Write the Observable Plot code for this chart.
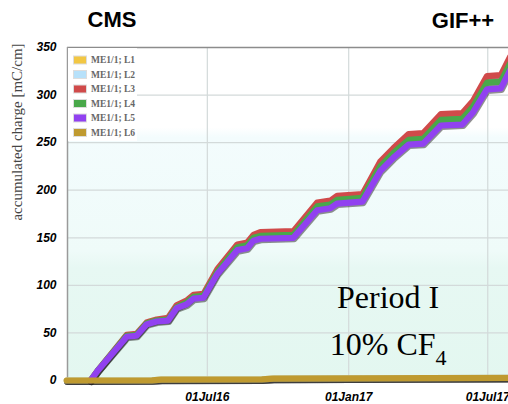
<!DOCTYPE html>
<html>
<head>
<meta charset="utf-8">
<script src="https://cdn.jsdelivr.net/npm/d3@7"></script>
<script src="https://cdn.jsdelivr.net/npm/@observablehq/plot@0.6"></script>
<style>
  html, body { margin: 0; padding: 0; background: #fff; }
  #chart { position: relative; width: 508px; height: 404px; overflow: hidden; }
</style>
</head>
<body>
<div id="chart"></div>
<script>
// Accumulated charge per layer of the ME1/1 chamber at GIF++ (mC/cm)
const seriesNames = ["ME1/1; L1", "ME1/1; L2", "ME1/1; L3", "ME1/1; L4", "ME1/1; L5", "ME1/1; L6"];
const seriesColors = ["#f2c744", "#b7e1fa", "#d04a4a", "#49a84a", "#9141f0", "#bf9a30"];

// Sampling dates shared by layers L3, L4, L5
const dates = ["2016-01-31","2016-02-09","2016-03-14","2016-03-18","2016-03-31","2016-04-13","2016-04-17",
  "2016-04-26","2016-05-11","2016-05-22","2016-06-04","2016-06-13","2016-06-26","2016-07-14","2016-08-09",
  "2016-08-22","2016-08-30","2016-09-08","2016-10-21","2016-11-21","2016-12-08","2016-12-17","2017-01-19",
  "2017-02-11","2017-02-28","2017-03-20","2017-04-08","2017-05-01","2017-05-29","2017-06-12","2017-06-30",
  "2017-07-18","2017-07-30"];
const chargeL3 = [0,10,44,48,49,61,62,64,66,79,84,90,91,117,143,145,153,156,157,187,189,194,196,230,244,259,260,280,281,294,320,321,340];
const chargeL4 = [0,10,43,47,48,60,61,63,64,77,82,88,89,114,140,142,150,152,153,183,185,190,192,225,239,253,254,274,275,288,313,314,333];
const chargeL5 = [0,10,42,46,47,59,60,62,63,76,80,86,87,112,137,139,147,149,150,179,181,186,188,220,234,248,249,268,269,282,306,307,326];

// Layers that stay close to zero
const lowDates = ["2015-12-31","2016-04-20","2016-05-02","2016-09-10","2016-09-25","2017-07-30"];
const chargeL1 = [0, 0.2, 0.9, 1.1, 1.9, 2.6];
const chargeL2 = [0, 0.2, 0.9, 1.1, 1.9, 2.7];
const chargeL6 = [0, 0.2, 1, 1.2, 2, 2.8];

const yTicks = [0, 50, 100, 150, 200, 250, 300, 350];
const xTicks = ["2016-07-01", "2017-01-01", "2017-07-01"];
const xDomain = ["2016-01-01", "2017-07-28"];

const toRows = (name, ds, vs) => ds.map((d, i) => ({series: name, date: new Date(d), value: vs[i]}));
const rowsBySeries = [
  toRows(seriesNames[0], lowDates, chargeL1),
  toRows(seriesNames[1], lowDates, chargeL2),
  toRows(seriesNames[2], dates, chargeL3),
  toRows(seriesNames[3], dates, chargeL4),
  toRows(seriesNames[4], dates, chargeL5),
  toRows(seriesNames[5], lowDates, chargeL6)
];

// Each layer: a dark soft edge underneath, then the coloured band
const lineMarks = rowsBySeries.flatMap((rows, i) => [
  Plot.line(rows, {x: "date", y: "value", stroke: "#222", strokeOpacity: 0.5,
    strokeWidth: 6.5, dx: 0.7, dy: 1.3,
    strokeLinejoin: "round", strokeLinecap: "round"}),
  Plot.line(rows, {x: "date", y: "value", stroke: seriesColors[i],
    strokeWidth: 6.2, strokeLinejoin: "round", strokeLinecap: "round"})
]);

const plot = Plot.plot({
  width: 508,
  height: 404,
  marginTop: 47,
  marginBottom: 24,
  marginLeft: 67,
  marginRight: 0,
  style: {fontFamily: "'Liberation Sans', Arial, sans-serif", background: "#fff"},
  x: {type: "utc", domain: xDomain.map(d => new Date(d)), axis: null},
  y: {domain: [0, 350], axis: null},
  marks: [
    Plot.frame({fill: "url(#plotBg)", stroke: "none"}),
    Plot.ruleY(yTicks.filter(v => v > 0 && v < 350), {stroke: "#d3dada", strokeWidth: 1.2}),
    Plot.ruleX(xTicks.map(d => new Date(d)), {stroke: "#d3dada", strokeWidth: 1.2}),
    Plot.ruleY([350], {stroke: "#8c8c8c", strokeWidth: 1.5}),
    Plot.ruleX([new Date(xDomain[0])], {stroke: "#9a9a9a", strokeWidth: 1.5}),
    Plot.axisY({ticks: yTicks, tickSize: 0, tickPadding: 11, label: null,
      fontSize: 12, fontWeight: "bold", fontStyle: "italic", fill: "#000"}),
    Plot.axisX({ticks: xTicks.map(d => new Date(d)), tickFormat: d3.utcFormat("%d%b%y"),
      tickSize: 0, tickPadding: 12, label: null,
      fontSize: 12, fontWeight: "bold", fontStyle: "italic", fill: "#000"}),
    ...lineMarks
  ]
});

document.getElementById("chart").appendChild(plot);

const svg = d3.select(plot);
const xs = plot.scale("x"), ys = plot.scale("y");

// Tick labels: bold italic sans
svg.selectAll('[aria-label="y-axis tick label"] text, [aria-label="x-axis tick label"] text')
  .style("font-family", "'Liberation Sans', Arial, sans-serif")
  .style("font-size", "12px").style("font-weight", "bold").style("font-style", "italic")
  .style("fill", "#000");

// Background gradient of the plotting area
const grad = svg.insert("defs", ":first-child").append("linearGradient")
  .attr("id", "plotBg").attr("x1", 0).attr("y1", 0).attr("x2", 0).attr("y2", 1);
[["0%", "#ffffff"], ["24%", "#ffffff"], ["27%", "#f3fcfd"], ["61%", "#effbf9"],
 ["66%", "#e7f8f3"], ["100%", "#e3f7f0"]]
  .forEach(([o, c]) => grad.append("stop").attr("offset", o).attr("stop-color", c));

// Titles
svg.append("text").attr("x", 112).attr("y", 27).attr("text-anchor", "middle")
  .style("font", "bold 22px 'Liberation Sans', Arial, sans-serif").attr("fill", "#000").text("CMS");
svg.append("text").attr("x", 463).attr("y", 28).attr("text-anchor", "middle")
  .style("font", "bold 22px 'Liberation Sans', Arial, sans-serif").attr("fill", "#000").text("GIF++");

// Y axis title
svg.append("text").attr("transform", "translate(22,132) rotate(-90)").attr("text-anchor", "middle")
  .style("font", "15px 'Liberation Serif', 'Times New Roman', serif").attr("fill", "#444")
  .text("accumulated charge [mC/cm]");

// Legend
const legend = svg.append("g").attr("text-anchor", "start");
legend.append("rect").attr("x", 68).attr("y", 48).attr("width", 69).attr("height", 93).attr("fill", "#fff");
seriesNames.forEach((name, i) => {
  const cy = 60 + i * 14.5;
  legend.append("rect").attr("x", 73.5).attr("y", cy - 4).attr("width", 13).attr("height", 8)
    .attr("fill", seriesColors[i]).attr("stroke", "#ddd").attr("stroke-width", 1);
  legend.append("text").attr("x", 91).attr("y", cy).attr("dy", "0.35em").attr("text-anchor", "start")
    .style("font", "bold 9.5px 'Liberation Serif', 'Times New Roman', serif").attr("fill", "#666")
    .text(name);
});

// Period annotation
const ax = xs.apply(new Date("2017-02-22"));
svg.append("text").attr("x", ax).attr("y", ys.apply(76)).attr("text-anchor", "middle")
  .style("font", "32px 'Liberation Serif', 'Times New Roman', serif").attr("fill", "#000")
  .text("Period I");
const gas = svg.append("text").attr("x", ax).attr("y", ys.apply(26)).attr("text-anchor", "middle")
  .style("font", "32px 'Liberation Serif', 'Times New Roman', serif").attr("fill", "#000");
gas.append("tspan").text("10% CF");
gas.append("tspan").attr("dy", 10).style("font-size", "22px").text("4");
</script>
</body>
</html>
